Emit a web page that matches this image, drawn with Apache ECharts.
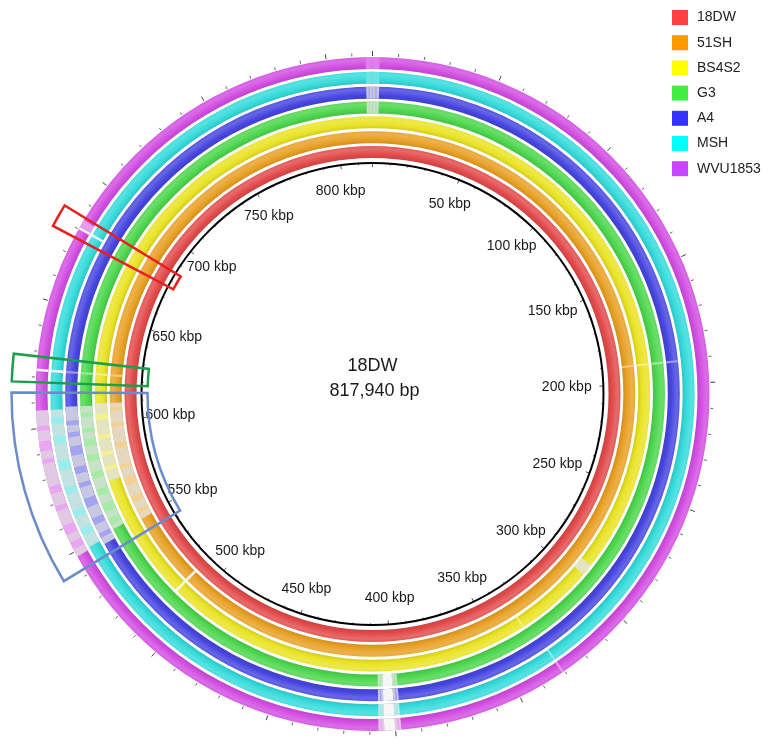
<!DOCTYPE html>
<html><head><meta charset="utf-8">
<script src="https://cdn.jsdelivr.net/npm/echarts@6/dist/echarts.min.js"></script>
<style>html,body{margin:0;padding:0;background:#fff}#c{width:769px;height:748px}</style>
</head><body><div id="c"></div>
<script>
// ---------------- data ----------------
const referenceName = '18DW';
const referenceLengthLabel = '817,940 bp';
const genomeLengthKbp = 817.94;
const genomes = ['18DW', '51SH', 'BS4S2', 'G3', 'A4', 'MSH', 'WVU1853'];
const tickLabelValues = [50,100,150,200,250,300,350,400,450,500,550,600,650,700,750,800];

// [ringIndex, startKbp, endKbp]  regions with no / weak BLAST identity
const paleRegions = [
  [3, 815.3, 817.94], [3, 0, 2.8], [4, 815.3, 817.94], [4, 0, 2.8],
  [3, 397.8, 400.1], [3, 404.4, 406.6], [4, 397.8, 400.1], [4, 404.4, 406.6],
  [5, 397.8, 400.1], [5, 404.4, 406.6], [6, 397.8, 400.1], [6, 404.4, 406.6],
  [2, 291, 296.6],
  [1, 549, 609], [2, 572, 609], [3, 551, 608], [4, 547, 608], [5, 549, 607], [6, 548, 607]
];
const whiteGaps = [
  [3, 400.1, 404.4], [4, 400.1, 404.4], [5, 400.1, 404.4], [6, 400.1, 404.4],
  [1, 510.6, 511.8], [2, 510.6, 511.8],
  [5, 680.0, 681.0], [6, 680.0, 681.0],
  [5, 622.3, 623.3], [6, 622.3, 623.3]
];
const tintStripes = [
  [1,605,607],[1,597,599],[1,586,589],[1,576,578],[1,567,571],[1,558,561],[1,552,554],
  [2,601,604],[2,592,594],[2,584,586],[2,577,579],
  [3,603,605],[3,596,598],[3,590,593],[3,583,586],[3,575,578],[3,567,570],[3,559,563],[3,553,556],
  [4,600,602],[4,595,597],[4,587,591],[4,579,582],[4,573,575],[4,564,568],[4,556,559],[4,550,552],
  [5,601,604],[5,593,596],[5,582,586],[5,572,575],[5,562,565],[5,554,557],
  [6,599,601],[6,591,595],[6,586,588],[6,574,577],[6,567,569],[6,557,561],[6,551,554],
  [3,398.5,399.2],[4,398.5,399.2],[5,398.5,399.2],[6,398.5,399.2],
  [3,405.2,405.8],[4,405.2,405.8],[5,405.2,405.8],[6,405.2,405.8],
  [3,816.2,816.8],[4,816.2,816.8],[3,1.2,1.8],[4,1.2,1.8]
];
const lightLines = [
  [5, 815.3, 817.94], [5, 0, 2.8], [6, 815.3, 817.94], [6, 0, 2.8],
  [1, 622.3, 623.3], [2, 622.3, 623.3], [3, 622.3, 623.3], [4, 622.3, 623.3],
  [1, 190, 191], [2, 190, 191], [3, 190, 191], [4, 190, 191],
  [2, 333.8, 334.6], [5, 330.4, 331.2], [6, 330.4, 331.2],
  [6, 681, 684]
];
// highlight boxes [startKbp, endKbp]
const redBox = [676.5, 685];
const greenBox = [618, 628];
const blueBox = [542.5, 614];

// ---------------- styles / layout ----------------
const ringColors = ['#E24A4A', '#E8A024', '#E9E324', '#4CD64C', '#4646E0', '#34DADA', '#D24EE2'];
const legendColors = ['#FF4040', '#FF9900', '#FFFF00', '#40EE40', '#3333FF', '#00FFFF', '#C844FF'];
const CX = 372.5, CY = 394;
const OUTER = 338, AXIS_R = 231;
const RING_IN0 = 236, RING_PITCH = 14.83, RING_W = 12;
const BOX_R0 = 225, BOX_R1 = 361;
const FONT = '"Liberation Sans", Arial, sans-serif';

function hex2rgb(h){h=h.replace('#','');return [parseInt(h.slice(0,2),16),parseInt(h.slice(2,4),16),parseInt(h.slice(4,6),16)];}
function mix(c1, c2, t){const a=hex2rgb(c1),b=hex2rgb(c2);return 'rgb('+a.map((v,i)=>Math.round(v*(1-t)+b[i]*t)).join(',')+')';}

function angles(api, cs, a, b) {
  const p0 = api.coord([100, a]), p1 = api.coord([100, b]);
  const s = Math.atan2(p0[1]-cs.cy, p0[0]-cs.cx);
  let e = Math.atan2(p1[1]-cs.cy, p1[0]-cs.cx);
  if (e - s < 1e-6) e += Math.PI*2;
  return [s, e];
}
function pxRadius(api, cs, r) {
  const p = api.coord([r, 0]);
  return Math.hypot(p[0]-cs.cx, p[1]-cs.cy);
}

const ringSegments = genomes.map((g, i) => {
  const segs = [{kind:'base', s:0, e:genomeLengthKbp}];
  paleRegions.filter(d=>d[0]===i).forEach(d=>segs.push({kind:'pale', s:d[1], e:d[2]}));
  tintStripes.filter(d=>d[0]===i).forEach(d=>segs.push({kind:'tint', s:d[1], e:d[2]}));
  whiteGaps.filter(d=>d[0]===i).forEach(d=>segs.push({kind:'white', s:d[1], e:d[2]}));
  lightLines.filter(d=>d[0]===i).forEach(d=>segs.push({kind:'light', s:d[1], e:d[2]}));
  return segs;
});

function ringSeries(i) {
  const segs = ringSegments[i];
  const col = ringColors[i];
  return {
    type: 'custom', name: genomes[i], coordinateSystem: 'polar', polarIndex: 0,
    itemStyle: {color: legendColors[i]},
    data: segs.map(s => [i, s.s, s.e]),
    encode: {radius: 0, angle: [1, 2]},
    silent: true, animation: false,
    renderItem: function(params, api) {
      const cs = params.coordSys;
      const seg = segs[params.dataIndex];
      const r0 = pxRadius(api, cs, RING_IN0 + i*RING_PITCH);
      const r1 = pxRadius(api, cs, RING_IN0 + i*RING_PITCH + RING_W);
      const [sa, ea] = angles(api, cs, api.value(1), api.value(2));
      let fill, z2 = 1;
      if (seg.kind === 'base') {
        fill = {type:'radial', x: cs.cx, y: cs.cy, r: r1, global: true, colorStops: [
          {offset: r0/r1, color: mix(col, '#000000', 0.10)},
          {offset: (r0+RING_W*0.3)/r1, color: col},
          {offset: (r0+RING_W*0.75)/r1, color: mix(col, '#ffffff', 0.18)},
          {offset: 1, color: mix(col, '#ffffff', 0.08)}
        ]};
      } else if (seg.kind === 'pale') { fill = mix(col, '#E4E4E4', 0.82); z2 = 2; }
      else if (seg.kind === 'tint') { fill = mix(col, '#ffffff', 0.5); z2 = 3; }
      else if (seg.kind === 'white') { fill = '#F6F6F6'; z2 = 4; }
      else { fill = mix(col, '#ffffff', (i >= 5 && seg.s > 800 || seg.e < 3) ? 0.28 : 0.45); z2 = 5; }
      return {type:'sector', z2: z2,
        shape:{cx: cs.cx, cy: cs.cy, r0: r0, r: r1, startAngle: sa, endAngle: ea, clockwise: true},
        style:{fill: fill}};
    }
  };
}

const boxes = [
  {range: redBox, color: '#E8201E'},
  {range: greenBox, color: '#1E9E4A'},
  {range: blueBox, color: '#6A8CCB'}
];

const series = genomes.map((g, i) => ringSeries(i));
series.push({
  type: 'custom', name: 'boxes', coordinateSystem: 'polar', polarIndex: 0, silent: true, animation: false,
  data: boxes.map(b => [0, b.range[0], b.range[1]]),
  encode: {radius: 0, angle: [1, 2]}, z: 5,
  renderItem: function(params, api) {
    const cs = params.coordSys;
    const b = boxes[params.dataIndex];
    const [sa, ea] = angles(api, cs, api.value(1), api.value(2));
    return {type:'sector',
      shape:{cx: cs.cx, cy: cs.cy, r0: pxRadius(api, cs, BOX_R0), r: pxRadius(api, cs, BOX_R1), startAngle: sa, endAngle: ea, clockwise: true},
      style:{fill: null, stroke: b.color, lineWidth: 2.5}};
  }
});
series.push({
  type: 'custom', name: 'ticklabels', coordinateSystem: 'polar', polarIndex: 0, silent: true, animation: false,
  data: tickLabelValues.map(v => [100, v]),
  encode: {radius: 0, angle: 1},
  renderItem: function(params, api) {
    const cs = params.coordSys;
    const p = api.coord([100, api.value(1)]);
    const rr = Math.hypot(p[0]-cs.cx, p[1]-cs.cy);
    const s = (p[0]-cs.cx)/rr, c = -(p[1]-cs.cy)/rr;
    const x = cs.cx - 4.5 + 198.6*s + (s > 0 ? 8*Math.abs(c) : 0);
    const y = cs.cy - 205*c;
    return {type:'text', x: x, y: y,
      style:{text: api.value(1) + ' kbp', fill:'#1a1a1a', font:'14px ' + FONT,
        align:'center', verticalAlign:'middle', textAlign:'center', textVerticalAlign:'middle'}};
  }
});

const option = {
  backgroundColor: '#ffffff',
  animation: false,
  legend: {
    orient: 'vertical', left: 672, top: 10, padding: 0, icon: 'rect',
    itemWidth: 16, itemHeight: 15, itemGap: 10.2,
    data: genomes,
    textStyle: {fontSize: 14, fontFamily: FONT, color: '#222', padding: [0,0,0,4], lineHeight: 15},
    selectedMode: false
  },
  polar: [
    {center: [CX, CY], radius: OUTER},
    {center: [CX, CY], radius: AXIS_R}
  ],
  angleAxis: [
    {polarIndex: 0, type: 'value', min: 0, max: genomeLengthKbp, interval: 50, startAngle: 90, clockwise: true,
      axisLine: {show: false}, splitLine: {show: false}, axisLabel: {show: false},
      axisTick: {show: true, length: 5, lineStyle: {color: '#444', width: 1}},
      minorTick: {show: true, splitNumber: 5, length: 3, lineStyle: {color: '#666', width: 1}}},
    {polarIndex: 1, type: 'value', min: 0, max: genomeLengthKbp, interval: 50, startAngle: 90, clockwise: true,
      axisLine: {show: true, lineStyle: {color: '#000', width: 2}}, splitLine: {show: false}, axisLabel: {show: false},
      axisTick: {show: true, inside: true, length: 4, lineStyle: {color: '#555', width: 1}},
      minorTick: {show: true, splitNumber: 5, length: 2, lineStyle: {color: '#777', width: 1}}}
  ],
  radiusAxis: [
    {polarIndex: 0, type: 'value', min: 0, max: OUTER, show: false},
    {polarIndex: 1, type: 'value', min: 0, max: AXIS_R, show: false}
  ],
  graphic: [
    {type:'text', x: CX, y: 366, silent: true,
      style:{text: referenceName, font: '18px ' + FONT, fill:'#1a1a1a', align:'center', verticalAlign:'middle', textAlign:'center', textVerticalAlign:'middle'}},
    {type:'text', x: CX + 2, y: 391, silent: true,
      style:{text: referenceLengthLabel, font: '18px ' + FONT, fill:'#1a1a1a', align:'center', verticalAlign:'middle', textAlign:'center', textVerticalAlign:'middle'}}
  ],
  series: series
};
const chart = echarts.init(document.getElementById('c'));
chart.setOption(option);
</script>
</body></html>
